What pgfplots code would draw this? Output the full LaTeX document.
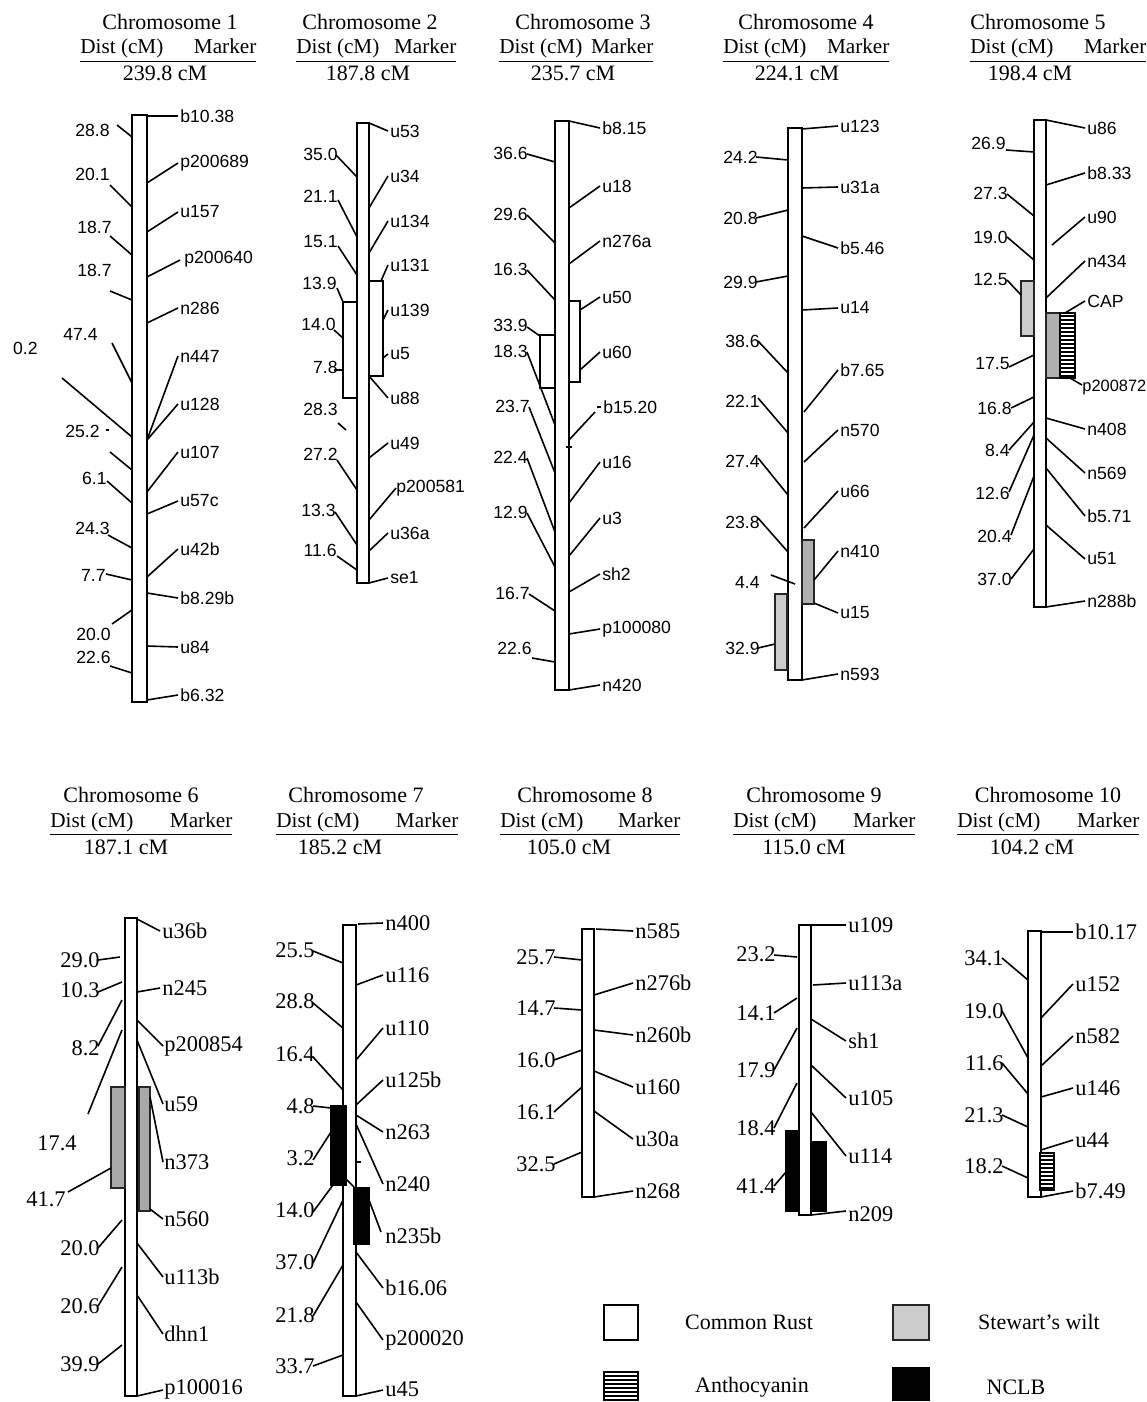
\documentclass[border=0pt]{standalone}
\usepackage{pgfplots}
\pgfplotsset{compat=1.18}
\usepackage{fontspec}
\setmainfont{Liberation Serif}
\newfontfamily\sans{Liberation Sans}
\usetikzlibrary{patterns,patterns.meta}
\tikzset{
 rt/.style={anchor=west,inner sep=0pt,font=\sans\fontsize{8.8}{10}\selectfont},
 lt/.style={anchor=east,inner sep=0pt,font=\sans\fontsize{8.8}{10}\selectfont},
 rb/.style={anchor=west,inner sep=0pt,font=\fontsize{11.2}{13}\selectfont},
 lb/.style={anchor=east,inner sep=0pt,font=\fontsize{11.2}{13}\selectfont},
 ttl/.style={anchor=center,inner sep=0pt,font=\fontsize{11}{13}\selectfont},
 hd/.style={anchor=base west,inner sep=0pt,font=\fontsize{10.6}{13}\selectfont},
 chr/.style={draw=black,fill=white,line width=1pt},
 rust/.style={draw=black,fill=white,line width=1pt},
 swlight/.style={draw=black!85,fill=gray!40,line width=1pt},
 swdark/.style={draw=black!85,fill=gray!62,line width=1pt},
 swsix/.style={draw=black!85,fill=gray!68,line width=1pt},
 antho/.style={draw=black,fill=black,line width=1pt,postaction={pattern={Lines[angle=0,distance=2pt,line width=0.6pt]},pattern color=white}},
 nclb/.style={draw=black,fill=black,line width=1pt},
}
\newcommand{\sg}[4]{\addplot[black,line width=0.8pt] coordinates {(#1,#2) (#3,#4)};}
\newcommand{\bx}[5]{\addplot[#5] coordinates {(#1,#2) (#3,#2) (#3,#4) (#1,#4)} -- cycle;}
\newcommand{\chrom}[4]{\bx{#1}{#2}{#3}{#4}{chr}}
\newcommand{\RT}[3]{\node[rt] at (axis cs:#1,#2) {#3};}
\newcommand{\LT}[3]{\node[lt] at (axis cs:#1,#2) {#3};}
\newcommand{\RB}[3]{\node[rb] at (axis cs:#1,#2) {#3};}
\newcommand{\LB}[3]{\node[lb] at (axis cs:#1,#2) {#3};}
% header: title-x, title-y, number, header-x, header-baseline-y, cM text, cM x, cM y, header width
\newcommand{\head}[9]{%
 \node[ttl] at (axis cs:#1,#2) {Chromosome #3};
 \node[hd] at (axis cs:#4,#5) {\underline{\makebox[#9]{Dist (cM)\hfill Marker}}};
 \node[ttl] at (axis cs:#7,#8) {#6};}
\begin{document}
\begin{tikzpicture}
\begin{axis}[width=573pt,height=701pt,scale only axis,hide axis,
 xmin=0,xmax=1146,ymin=0,ymax=1402,y dir=reverse,clip=false]
% ---------------- Chromosome 1
\head{170}{22}{1}{80}{54}{239.8 cM}{165}{73}{88pt}
\chrom{132}{115}{147}{702}
\sg{147}{116}{178}{116} \RT{180}{116}{b10.38}
\sg{147}{183}{178}{163} \RT{180}{163}{p200689}
\sg{147}{232}{178}{212} \RT{180}{212}{u157}
\sg{147}{277}{180}{260} \RT{184}{259}{p200640}
\sg{147}{323}{178}{308} \RT{180}{308}{n286}
\sg{147}{440}{178}{356} \RT{180}{356}{n447}
\sg{147}{440}{178}{404} \RT{180}{404}{u128}
\sg{147}{492}{178}{452} \RT{180}{452}{u107}
\sg{147}{514}{178}{501} \RT{180}{501}{u57c}
\sg{147}{577}{178}{549} \RT{180}{549}{u42b}
\sg{147}{593}{178}{598} \RT{180}{598}{b8.29b}
\sg{147}{646}{178}{647} \RT{180}{647}{u84}
\sg{147}{700}{178}{695} \RT{180}{695}{b6.32}
\LT{110}{130}{28.8} \sg{117}{125}{132}{137}
\LT{110}{174}{20.1} \sg{110}{185}{132}{207}
\LT{112}{227}{18.7} \sg{110}{236}{132}{255}
\LT{112}{270}{18.7} \sg{110}{291}{132}{300}
\LT{98}{334}{47.4} \sg{112}{343}{132}{383}
\LT{38}{348}{0.2} \sg{62}{378}{132}{437}
\LT{100}{431}{25.2} \sg{106}{430}{109}{430} \sg{110}{452}{132}{470}
\LT{107}{478}{6.1} \sg{107}{481}{132}{503}
\LT{110}{528}{24.3} \sg{108}{535}{132}{548}
\LT{106}{575}{7.7} \sg{106}{574}{132}{580}
\LT{111}{634}{20.0} \sg{112}{624}{132}{610}
\LT{111}{657}{22.6} \sg{110}{666}{132}{673}
% ---------------- Chromosome 2
\head{370}{22}{2}{296}{54}{187.8 cM}{368}{73}{80pt}
\chrom{357}{123}{369}{583}
\bx{343}{302}{357}{398}{rust}
\bx{369}{281}{383}{376}{rust}
\sg{369}{123}{388}{131} \RT{390}{131}{u53}
\sg{369}{208}{388}{176} \RT{390}{176}{u34}
\sg{369}{253}{388}{221} \RT{390}{221}{u134}
\sg{381}{281}{388}{265} \RT{390}{265}{u131}
\sg{383}{320}{388}{310} \RT{390}{310}{u139}
\sg{383}{358}{388}{354} \RT{390}{354}{u5}
\sg{369}{376}{388}{398} \RT{390}{398}{u88}
\sg{369}{458}{388}{443} \RT{390}{443}{u49}
\sg{369}{520}{396}{488} \RT{396}{488}{p200581}
\sg{369}{551}{388}{533} \RT{390}{533}{u36a}
\sg{369}{583}{388}{578} \RT{390}{578}{se1}
\LT{338}{154}{35.0} \sg{336}{155}{357}{177}
\LT{338}{196}{21.1} \sg{338}{200}{357}{237}
\LT{338}{242}{15.1} \sg{338}{246}{357}{275}
\LT{337}{283}{13.9} \sg{337}{288}{343}{302}
\LT{336}{324}{14.0} \sg{334}{330}{343}{338}
\LT{338}{367}{7.8} \sg{334}{370}{343}{370}
\LT{338}{409}{28.3} \sg{338}{423}{346}{430}
\LT{338}{454}{27.2} \sg{337}{460}{357}{490}
\LT{336}{510}{13.3} \sg{335}{512}{357}{545}
\LT{337}{550}{11.6} \sg{337}{556}{357}{570}
% ---------------- Chromosome 3
\head{583}{22}{3}{499}{54}{235.7 cM}{573}{73}{77pt}
\chrom{555}{121}{569}{690}
\bx{540}{335}{555}{388}{rust}
\bx{569}{301}{580}{382}{rust}
\sg{569}{121}{600}{128} \RT{602}{128}{b8.15}
\sg{569}{208}{600}{186} \RT{602}{186}{u18}
\sg{569}{264}{600}{241} \RT{602}{241}{n276a}
\sg{580}{310}{600}{297} \RT{602}{297}{u50}
\sg{580}{370}{600}{352} \RT{602}{352}{u60}
\sg{569}{440}{595}{412} \sg{597}{407}{601}{407} \RT{603}{407}{b15.20}
\sg{566}{447}{572}{447}
\sg{569}{503}{600}{462} \RT{602}{462}{u16}
\sg{569}{556}{600}{518} \RT{602}{518}{u3}
\sg{569}{592}{600}{574} \RT{602}{574}{sh2}
\sg{569}{634}{600}{629} \RT{602}{629}{p100080}
\sg{569}{690}{600}{685} \RT{602}{685}{n420}
\LT{528}{153}{36.6} \sg{527}{154}{555}{162}
\LT{528}{214}{29.6} \sg{527}{215}{555}{243}
\LT{528}{269}{16.3} \sg{527}{270}{555}{300}
\LT{528}{325}{33.9} \sg{527}{327}{540}{336}
\LT{528}{351}{18.3} \sg{527}{352}{555}{425}
\LT{530}{406}{23.7} \sg{529}{407}{555}{473}
\LT{528}{457}{22.4} \sg{527}{458}{555}{532}
\LT{528}{512}{12.9} \sg{527}{513}{555}{567}
\LT{530}{593}{16.7} \sg{529}{594}{555}{611}
\LT{532}{648}{22.6} \sg{532}{658}{555}{662}
% ---------------- Chromosome 4
\head{806}{22}{4}{723}{54}{224.1 cM}{797}{73}{83pt}
\chrom{788}{128}{802}{680}
\bx{802}{540}{814}{604}{swdark}
\bx{775}{594}{787}{670}{swlight}
\sg{802}{129}{838}{126} \RT{840}{126}{u123}
\sg{802}{188}{838}{187} \RT{840}{187}{u31a}
\sg{802}{236}{838}{248} \RT{840}{248}{b5.46}
\sg{802}{310}{838}{308} \RT{840}{308}{u14}
\sg{804}{412}{838}{370} \RT{840}{370}{b7.65}
\sg{804}{462}{838}{430} \RT{840}{430}{n570}
\sg{804}{528}{838}{491} \RT{840}{491}{u66}
\sg{814}{580}{838}{551} \RT{840}{551}{n410}
\sg{814}{603}{838}{613} \RT{840}{613}{u15}
\sg{802}{680}{838}{674} \RT{840}{674}{n593}
\LT{758}{157}{24.2} \sg{756}{157}{788}{160}
\LT{758}{218}{20.8} \sg{756}{218}{788}{210}
\LT{758}{282}{29.9} \sg{756}{282}{788}{276}
\LT{760}{341}{38.6} \sg{758}{341}{788}{373}
\LT{760}{401}{22.1} \sg{758}{398}{788}{433}
\LT{760}{461}{27.4} \sg{758}{458}{788}{495}
\LT{760}{522}{23.8} \sg{758}{518}{788}{552}
\LT{760}{582}{4.4} \sg{771}{575}{795}{584}
\LT{760}{648}{32.9} \sg{758}{648}{775}{644}
% ---------------- Chromosome 5
\head{1038}{22}{5}{970}{54}{198.4 cM}{1030}{73}{88pt}
\chrom{1034}{120}{1046}{607}
\bx{1021}{281}{1034}{336}{swlight}
\bx{1046}{313}{1060}{378}{swdark}
\bx{1060}{313}{1075}{378}{antho}
\sg{1046}{120}{1085}{128} \RT{1087}{128}{u86}
\sg{1046}{185}{1085}{173} \RT{1087}{173}{b8.33}
\sg{1052}{245}{1085}{217} \RT{1087}{217}{u90}
\sg{1046}{298}{1085}{261} \RT{1087}{261}{n434}
\sg{1065}{313}{1085}{301} \RT{1087}{301}{CAP}
\sg{1070}{378}{1082}{385} \node[rt,font=\sans\fontsize{8.2}{10}\selectfont] at (axis cs:1082,387) {p200872};
\sg{1046}{418}{1085}{429} \RT{1087}{429}{n408}
\sg{1046}{438}{1085}{473} \RT{1087}{473}{n569}
\sg{1046}{468}{1085}{516} \RT{1087}{516}{b5.71}
\sg{1046}{525}{1085}{559} \RT{1087}{559}{u51}
\sg{1046}{607}{1085}{601} \RT{1087}{601}{n288b}
\LT{1006}{143}{26.9} \sg{1006}{150}{1034}{152}
\LT{1008}{193}{27.3} \sg{1007}{194}{1034}{216}
\LT{1008}{237}{19.0} \sg{1007}{237}{1034}{260}
\LT{1008}{279}{12.5} \sg{1007}{280}{1021}{295}
\LT{1010}{364}{17.5} \sg{1009}{367}{1034}{355}
\LT{1012}{408}{16.8} \sg{1011}{408}{1034}{397}
\LT{1010}{450}{8.4} \sg{1009}{450}{1034}{422}
\LT{1010}{493}{12.6} \sg{1009}{492}{1034}{435}
\LT{1012}{536}{20.4} \sg{1011}{535}{1034}{476}
\LT{1012}{579}{37.0} \sg{1011}{579}{1034}{549}
% ---------------- Chromosome 6
\head{131}{795}{6}{50}{827}{187.1 cM}{126}{847}{91pt}
\chrom{125}{918}{137}{1396}
\bx{111}{1087}{125}{1188}{swsix}
\bx{139}{1087}{150}{1211}{swsix}
\sg{137}{919}{160}{931} \RB{162}{931}{u36b}
\sg{137}{992}{160}{988} \RB{162}{988}{n245}
\sg{137}{1020}{163}{1046} \RB{164}{1046}{p200854}
\sg{137}{1040}{163}{1104} \RB{164}{1104}{u59}
\sg{150}{1097}{163}{1162} \RB{164}{1162}{n373}
\sg{150}{1209}{163}{1219} \RB{164}{1219}{n560}
\sg{137}{1243}{163}{1277} \RB{164}{1277}{u113b}
\sg{137}{1295}{163}{1334} \RB{164}{1334}{dhn1}
\sg{137}{1396}{163}{1390} \RB{164}{1389}{p100016}
\LB{100}{960}{29.0} \sg{98}{960}{120}{957}
\LB{100}{990}{10.3} \sg{98}{992}{122}{982}
\LB{100}{1048}{8.2} \sg{98}{1046}{122}{1000}
\LB{77}{1143}{17.4} \sg{88}{1114}{122}{1030}
\LB{66}{1199}{41.7} \sg{68}{1192}{111}{1168}
\LB{100}{1248}{20.0} \sg{98}{1248}{122}{1220}
\LB{100}{1306}{20.6} \sg{98}{1306}{122}{1267}
\LB{100}{1364}{39.9} \sg{98}{1364}{122}{1345}
% ---------------- Chromosome 7
\head{356}{795}{7}{276}{827}{185.2 cM}{340}{847}{91pt}
\chrom{343}{925}{356}{1396}
\bx{331}{1106}{346}{1185}{nclb}
\bx{354}{1188}{369}{1244}{nclb}
\sg{358}{924}{383}{923} \RB{385}{923}{n400}
\sg{356}{985}{383}{975} \RB{385}{975}{u116}
\sg{356}{1060}{383}{1028} \RB{385}{1028}{u110}
\sg{356}{1105}{383}{1080} \RB{385}{1080}{u125b}
\sg{356}{1115}{383}{1132} \RB{385}{1132}{n263}
\sg{356}{1124}{383}{1184} \RB{385}{1184}{n240}
\sg{369}{1200}{381}{1232} \RB{385}{1236}{n235b}
\sg{356}{1252}{383}{1288} \RB{385}{1288}{b16.06}
\sg{356}{1302}{383}{1340} \RB{385}{1340}{p200020}
\sg{356}{1396}{383}{1390} \RB{385}{1389}{u45}
\sg{356}{1162}{361}{1162}
\sg{346}{1179}{354}{1187}
\LB{315}{950}{25.5} \sg{313}{951}{343}{963}
\LB{315}{1001}{28.8} \sg{313}{1003}{343}{1028}
\LB{315}{1054}{16.4} \sg{313}{1057}{343}{1090}
\LB{315}{1106}{4.8} \sg{313}{1106}{331}{1108}
\LB{315}{1158}{3.2} \sg{313}{1160}{331}{1132}
\LB{315}{1210}{14.0} \sg{313}{1212}{333}{1185}
\LB{315}{1262}{37.0} \sg{313}{1263}{343}{1200}
\LB{315}{1315}{21.8} \sg{313}{1316}{343}{1265}
\LB{315}{1366}{33.7} \sg{313}{1366}{343}{1355}
% ---------------- Chromosome 8
\head{585}{795}{8}{500}{827}{105.0 cM}{569}{847}{90pt}
\chrom{582}{929}{594}{1197}
\sg{596}{929}{633}{931} \RB{635}{931}{n585}
\sg{594}{995}{633}{983} \RB{635}{983}{n276b}
\sg{594}{1030}{633}{1035} \RB{635}{1035}{n260b}
\sg{594}{1071}{633}{1087} \RB{635}{1087}{u160}
\sg{594}{1111}{633}{1139} \RB{635}{1139}{u30a}
\sg{594}{1197}{633}{1191} \RB{635}{1191}{n268}
\LB{556}{957}{25.7} \sg{554}{957}{582}{960}
\LB{556}{1008}{14.7} \sg{554}{1008}{582}{1010}
\LB{556}{1060}{16.0} \sg{554}{1060}{582}{1050}
\LB{556}{1112}{16.1} \sg{554}{1112}{582}{1087}
\LB{556}{1164}{32.5} \sg{554}{1164}{582}{1152}
% ---------------- Chromosome 9
\head{814}{795}{9}{733}{827}{115.0 cM}{804}{847}{91pt}
\chrom{799}{925}{811}{1215}
\bx{786}{1131}{799}{1211}{nclb}
\bx{811}{1142}{826}{1211}{nclb}
\sg{811}{925}{846}{925} \RB{848}{925}{u109}
\sg{813}{985}{846}{983} \RB{848}{983}{u113a}
\sg{811}{1019}{846}{1041} \RB{848}{1041}{sh1}
\sg{811}{1065}{846}{1098} \RB{848}{1098}{u105}
\sg{811}{1112}{846}{1156} \RB{848}{1156}{u114}
\sg{811}{1215}{846}{1211} \RB{848}{1214}{n209}
\LB{776}{954}{23.2} \sg{774}{955}{797}{957}
\LB{776}{1013}{14.1} \sg{774}{1013}{797}{998}
\LB{776}{1070}{17.9} \sg{774}{1070}{797}{1028}
\LB{776}{1128}{18.4} \sg{774}{1128}{797}{1083}
\LB{776}{1186}{41.4} \sg{774}{1186}{786}{1172}
% ---------------- Chromosome 10
\head{1048}{795}{10}{957}{827}{104.2 cM}{1032}{847}{91pt}
\chrom{1028}{931}{1041}{1197}
\bx{1040}{1153}{1054}{1190}{antho}
\sg{1041}{932}{1073}{932} \RB{1075}{932}{b10.17}
\sg{1041}{1018}{1073}{984} \RB{1075}{984}{u152}
\sg{1041}{1066}{1073}{1036} \RB{1075}{1036}{n582}
\sg{1041}{1097}{1073}{1088} \RB{1075}{1088}{u146}
\sg{1041}{1150}{1073}{1140} \RB{1075}{1140}{u44}
\sg{1041}{1197}{1073}{1191} \RB{1075}{1191}{b7.49}
\LB{1004}{958}{34.1} \sg{1002}{958}{1028}{980}
\LB{1004}{1011}{19.0} \sg{1002}{1011}{1028}{1058}
\LB{1004}{1063}{11.6} \sg{1002}{1063}{1028}{1094}
\LB{1004}{1115}{21.3} \sg{1002}{1115}{1028}{1127}
\LB{1004}{1166}{18.2} \sg{1002}{1166}{1028}{1178}
% ---------------- Legend
\bx{604}{1305}{638}{1340}{rust}
\bx{893}{1305}{929}{1340}{swlight}
\bx{604}{1372}{638}{1400}{antho}
\bx{893}{1368}{929}{1400}{nclb}
\node[ttl] at (axis cs:749,1322) {Common Rust};
\node[ttl] at (axis cs:1039,1322) {Stewart’s wilt};
\node[ttl] at (axis cs:752,1387) {Anthocyanin};
\node[ttl] at (axis cs:1016,1387) {NCLB};
\end{axis}
\pgfresetboundingbox
\path (0,0) rectangle (573pt,701pt);
\end{tikzpicture}
\end{document}
